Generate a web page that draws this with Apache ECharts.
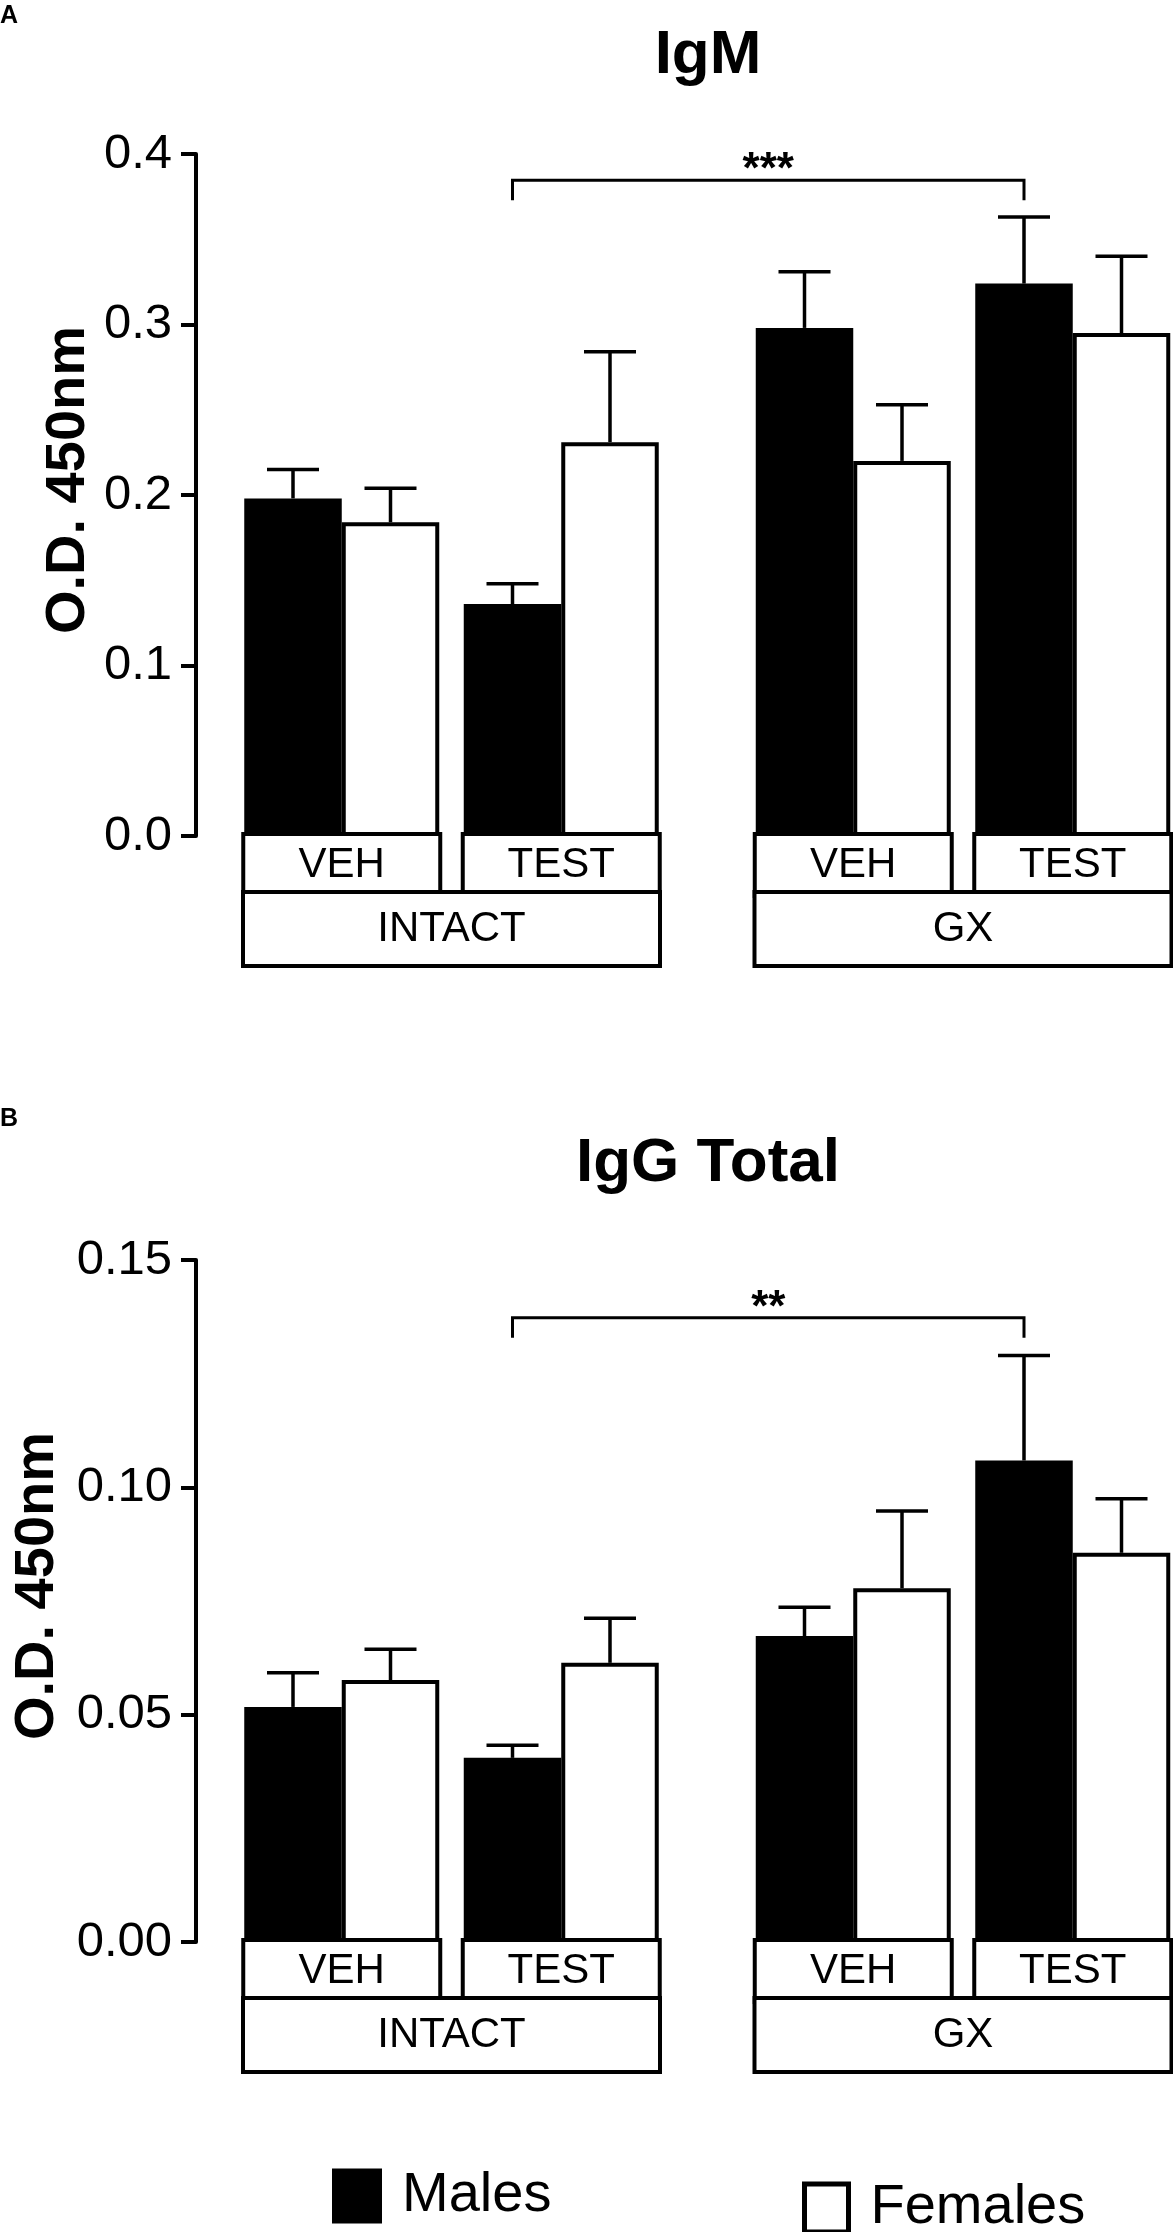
<!DOCTYPE html>
<html>
<head>
<meta charset="utf-8">
<title>IgM / IgG Total</title>
<script src="https://cdn.jsdelivr.net/npm/echarts@6/dist/echarts.min.js"></script>
<style>
    html, body { margin: 0; padding: 0; background: #fff; }
    #chart { width: 1173px; height: 2232px; }
</style>
</head>
<body>
<div id="chart"></div>
<script>
// categories
const treatments = ['VEH', 'TEST']
const groups = ['INTACT', 'GX']
const sexes = ['Males', 'Females']

// values, order: INTACT VEH, INTACT TEST, GX VEH, GX TEST
const igmMales = [0.198, 0.136, 0.298, 0.324]
const igmMalesSem = [0.017, 0.012, 0.033, 0.039]
const igmFemales = [0.184, 0.231, 0.220, 0.295]
const igmFemalesSem = [0.020, 0.053, 0.033, 0.045]

const iggMales = [0.0517, 0.0405, 0.0673, 0.1059]
const iggMalesSem = [0.0075, 0.0028, 0.0063, 0.0231]
const iggFemales = [0.0576, 0.0614, 0.0778, 0.0856]
const iggFemalesSem = [0.0068, 0.0098, 0.0170, 0.0119]

// y axis ticks
const igmTicks = { min: 0, max: 0.4, interval: 0.1, digits: 1 }
const iggTicks = { min: 0, max: 0.15, interval: 0.05, digits: 2 }

// significance: [from condition, to condition, height, label]
const igmSig = [1, 3, 0.3846, '***']
const iggSig = [1, 3, 0.1373, '**']

const FONT = 'Liberation Sans'
const BAR_W = 97.5
const GROUP_LEFT = [232, 743.5]
const GROUP_W = 439
const GRID_H = 682

let fig = {
    $chart: echarts.init(document.getElementById('chart')),
    panels: [
        { letter: 'A', title: 'IgM', top: 154, ticks: igmTicks, nameGap: 99, males: igmMales, malesSem: igmMalesSem, females: igmFemales, femalesSem: igmFemalesSem, sig: igmSig },
        { letter: 'B', title: 'IgG Total', top: 1260, ticks: iggTicks, nameGap: 130, males: iggMales, malesSem: iggMalesSem, females: iggFemales, femalesSem: iggFemalesSem, sig: iggSig }
    ],
    init() {
        this.initChart()
        this.addGraphics()
    },
    boxLabel(w, h) {
        return {
            interval: 0,
            margin: 0,
            width: w,
            height: h,
            lineHeight: h,
            align: 'center',
            verticalAlign: 'top',
            overflow: 'none',
            backgroundColor: '#fff',
            borderColor: '#000',
            borderWidth: 4,
            color: '#000',
            fontSize: 42,
            fontFamily: FONT
        }
    },
    errorBar(offset) {
        return function (params, api) {
            const base = api.coord([api.value(0), api.value(1)])
            const top = api.coord([api.value(0), api.value(2)])
            const x = base[0] + offset
            const style = { stroke: '#000', lineWidth: 3.5 }
            return {
                type: 'group',
                children: [
                    { type: 'line', shape: { x1: x, y1: base[1], x2: x, y2: top[1] }, style: style },
                    { type: 'line', shape: { x1: x - 26, y1: top[1], x2: x + 26, y2: top[1] }, style: style }
                ]
            }
        }
    },
    initChart() {
        const me = this
        const opt = { animation: false, grid: [], xAxis: [], yAxis: [], series: [] }
        me.panels.forEach(function (p) {
            p.axes = []
            groups.forEach(function (g, gi) {
                const gridIndex = opt.grid.length
                opt.grid.push({ left: GROUP_LEFT[gi], width: GROUP_W, top: p.top, height: GRID_H, outerBoundsMode: 'none', containLabel: false })
                const xi = opt.xAxis.length
                opt.xAxis.push({
                    type: 'category', gridIndex: gridIndex, data: treatments,
                    axisLine: { show: false }, axisTick: { show: false },
                    axisLabel: me.boxLabel(193, 58)
                })
                opt.xAxis.push({
                    type: 'category', gridIndex: gridIndex, data: [g], position: 'bottom', offset: 58,
                    axisLine: { show: false }, axisTick: { show: false },
                    axisLabel: me.boxLabel(413, 70)
                })
                const yi = opt.yAxis.length
                opt.yAxis.push({
                    type: 'value', gridIndex: gridIndex, show: gi === 0,
                    min: p.ticks.min, max: p.ticks.max, interval: p.ticks.interval,
                    offset: 36,
                    axisLine: { show: true, lineStyle: { color: '#000', width: 4 } },
                    axisTick: { show: true, length: 15, lineStyle: { color: '#000', width: 4 } },
                    axisLabel: {
                        margin: 24, fontSize: 49, color: '#000', fontFamily: FONT,
                        formatter: v => v.toFixed(p.ticks.digits)
                    },
                    splitLine: { show: false },
                    name: 'O.D. 450nm',
                    nameLocation: 'middle',
                    nameGap: p.nameGap,
                    nameTextStyle: { fontSize: 56, fontWeight: 'bold', fontFamily: FONT, color: '#000', padding: [0, 0, 0, 30] }
                })
                p.axes.push([xi, yi])
                const i0 = gi * 2, i1 = gi * 2 + 2
                const sets = [
                    { vals: p.males, sem: p.malesSem, style: { color: '#000' }, offset: -BAR_W / 2 },
                    { vals: p.females, sem: p.femalesSem, style: { color: '#fff', borderColor: '#000', borderWidth: 4 }, offset: BAR_W / 2 }
                ]
                sets.forEach(function (s, si) {
                    opt.series.push({
                        name: sexes[si], type: 'bar', xAxisIndex: xi, yAxisIndex: yi,
                        data: s.vals.slice(i0, i1), barWidth: BAR_W, barGap: '0%',
                        itemStyle: s.style, z: 2
                    })
                })
                sets.forEach(function (s, si) {
                    opt.series.push({
                        name: sexes[si] + ' SEM', type: 'custom', xAxisIndex: xi, yAxisIndex: yi,
                        data: s.vals.slice(i0, i1).map((v, k) => [k, v, v + s.sem[i0 + k]]),
                        encode: { x: 0, y: [1, 2] },
                        renderItem: me.errorBar(s.offset), z: 3
                    })
                })
            })
        })
        opt.legend = [
            {
                data: ['Males'], left: 332, top: 2168, padding: 0, icon: 'rect',
                itemWidth: 50, itemHeight: 55, selectedMode: false,
                textStyle: { fontSize: 56, fontFamily: FONT, color: '#000', padding: [0, 0, 0, 15] }
            },
            {
                data: ['Females'], left: 802, top: 2180, padding: 0, icon: 'rect',
                itemWidth: 44, itemHeight: 48, selectedMode: false,
                itemStyle: { borderWidth: 5 },
                textStyle: { fontSize: 56, fontFamily: FONT, color: '#000', padding: [0, 0, 0, 17] }
            }
        ]
        me.$chart.setOption(opt)
    },
    addGraphics() {
        const me = this
        const graphic = []
        const letterY = [16, 1119]
        const titleY = [56, 1164]
        me.panels.forEach(function (p, pi) {
            graphic.push({
                type: 'text', x: 0, y: letterY[pi],
                style: { text: p.letter, fontSize: 25, fontWeight: 'bold', fontFamily: FONT, fill: '#000', verticalAlign: 'middle' }
            })
            graphic.push({
                type: 'text', x: 708, y: titleY[pi],
                style: { text: p.title, fontSize: 62, fontWeight: 'bold', fontFamily: FONT, fill: '#000', align: 'center', verticalAlign: 'middle' }
            })
            const from = p.axes[Math.floor(p.sig[0] / 2)]
            const to = p.axes[Math.floor(p.sig[1] / 2)]
            const a = me.$chart.convertToPixel({ xAxisIndex: from[0], yAxisIndex: from[1] }, [p.sig[0] % 2, p.sig[2]])
            const b = me.$chart.convertToPixel({ xAxisIndex: to[0], yAxisIndex: to[1] }, [p.sig[1] % 2, p.sig[2]])
            const x1 = a[0] - BAR_W / 2, x2 = b[0] - BAR_W / 2, y = a[1]
            graphic.push({
                type: 'polyline',
                shape: { points: [[x1, y + 20], [x1, y], [x2, y], [x2, y + 20]] },
                style: { stroke: '#000', lineWidth: 3, fill: null }
            })
            graphic.push({
                type: 'text', x: (x1 + x2) / 2, y: y - 9,
                style: { text: p.sig[3], fontSize: 44, fontWeight: 'bold', fontFamily: FONT, fill: '#000', align: 'center', verticalAlign: 'middle' }
            })
        })
        me.$chart.setOption({ graphic: graphic })
    }
}
fig.init()
</script>
</body>
</html>
